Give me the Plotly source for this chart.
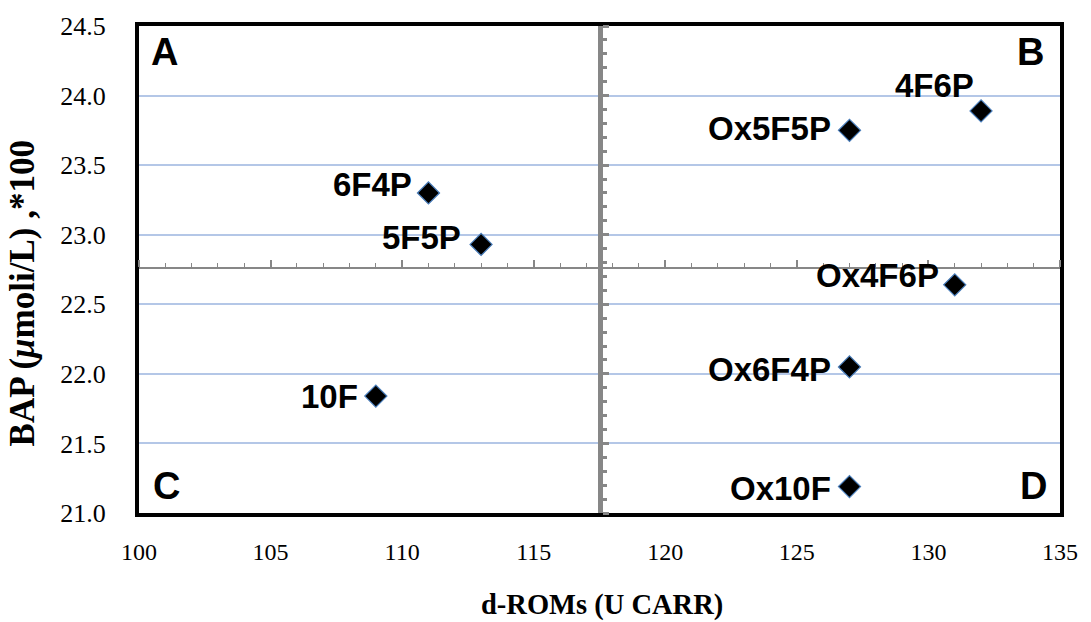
import plotly.graph_objects as go

# ---- data ----
labels = ["6F4P", "5F5P", "10F", "Ox5F5P", "4F6P", "Ox4F6P", "Ox6F4P", "Ox10F"]
d_roms = [111, 113, 109, 127, 132, 131, 127, 127]
bap = [23.30, 22.93, 21.84, 23.75, 23.89, 22.64, 22.05, 21.19]

x_range = [100, 135]
y_range = [21.0, 24.5]
x_cross = 117.5   # vertical axis crosses here
y_cross = 22.76   # horizontal axis crosses here

quadrants = ["A", "B", "C", "D"]

# label offsets (px) relative to marker
label_xshift = [-14, -18, -16, -16, -5, -14, -16, -16]
label_yshift = [8, 7, 0, 2, 25, 9, -3, -2]

fig = go.Figure()

fig.add_trace(go.Scatter(
    x=d_roms, y=bap, mode="markers",
    marker=dict(symbol="diamond", size=17, color="black",
                line=dict(color="#4a7ebb", width=1.2)),
    showlegend=False, hoverinfo="x+y"))

# invisible trace for crossing axes
fig.add_trace(go.Scatter(x=[x_cross], y=[y_cross], xaxis="x2", yaxis="y2",
                         mode="markers", marker=dict(opacity=0),
                         showlegend=False, hoverinfo="skip"))

serif = "Liberation Serif, Times New Roman, serif"
xtick_font = dict(family=serif, size=24, color="black")
ytick_font = dict(family=serif, size=26, color="black")

fig.update_layout(
    width=1091, height=622,
    margin=dict(l=139, r=31, t=23, b=109),
    plot_bgcolor="white", paper_bgcolor="white",
    xaxis=dict(range=x_range, dtick=5, tick0=100, showgrid=False, zeroline=False,
               showline=True, mirror=True, linecolor="black", linewidth=4,
               ticks="", tickfont=xtick_font, ticklabelstandoff=14),
    yaxis=dict(range=y_range, dtick=0.5, tick0=21, tickformat=".1f", showgrid=True,
               gridcolor="#b4c7e7", gridwidth=1.5, zeroline=False,
               showline=True, mirror=True, linecolor="black", linewidth=4,
               ticks="", tickfont=ytick_font, ticklabelstandoff=24),
    xaxis2=dict(range=x_range, overlaying="x", anchor="free",
                position=(y_cross - y_range[0]) / (y_range[1] - y_range[0]),
                side="top", showticklabels=False, showgrid=False, zeroline=False,
                showline=True, linecolor="#878787", linewidth=2,
                ticks="outside", ticklen=7, tickwidth=1.5, tickcolor="#878787",
                dtick=5, tick0=100,
                minor=dict(ticks="outside", dtick=1, ticklen=4, tickwidth=1.2,
                           tickcolor="#878787", showgrid=False)),
    yaxis2=dict(range=y_range, overlaying="y", anchor="free",
                position=(x_cross - x_range[0]) / (x_range[1] - x_range[0]),
                side="right", showticklabels=False, showgrid=False, zeroline=False,
                showline=True, linecolor="#878787", linewidth=5,
                ticks="outside", ticklen=6, tickwidth=2.5, tickcolor="#878787",
                dtick=0.5, tick0=21,
                minor=dict(ticks="outside", dtick=0.1, ticklen=4, tickwidth=2.5,
                           tickcolor="#878787", showgrid=False)),
)

label_font = dict(family="Liberation Sans, Arial, sans-serif", size=33, color="black")
for lab, xv, yv, xs, ys in zip(labels, d_roms, bap, label_xshift, label_yshift):
    fig.add_annotation(x=xv, y=yv, text="<b>%s</b>" % lab, showarrow=False,
                       xanchor="right", yanchor="middle", xshift=xs, yshift=ys,
                       font=label_font)

quad_pos = [(0.028, 0.946), (0.9685, 0.946), (0.0304, 0.056), (0.9707, 0.056)]
for q, (px, py) in zip(quadrants, quad_pos):
    fig.add_annotation(x=px, y=py, xref="paper", yref="paper", text="<b>%s</b>" % q,
                       showarrow=False, xanchor="center", yanchor="middle",
                       font=dict(family="Liberation Sans, Arial, sans-serif", size=38,
                                 color="black"))

fig.add_annotation(x=0.503, y=-0.188, xref="paper", yref="paper",
                   text="<b>d-ROMs (U CARR)</b>", showarrow=False,
                   xanchor="center", yanchor="middle",
                   font=dict(family=serif, size=28.5, color="black"))
fig.add_annotation(x=-0.127, y=0.451, xref="paper", yref="paper",
                   text="<b>BAP (<i>μ</i>moli/L) ,*100</b>", showarrow=False,
                   textangle=-90, xanchor="center", yanchor="middle",
                   font=dict(family=serif, size=35, color="black"))

fig.write_html("out.html", config={"displayModeBar": False},
               post_script="document.body.style.margin='0';document.body.style.padding='0';")
